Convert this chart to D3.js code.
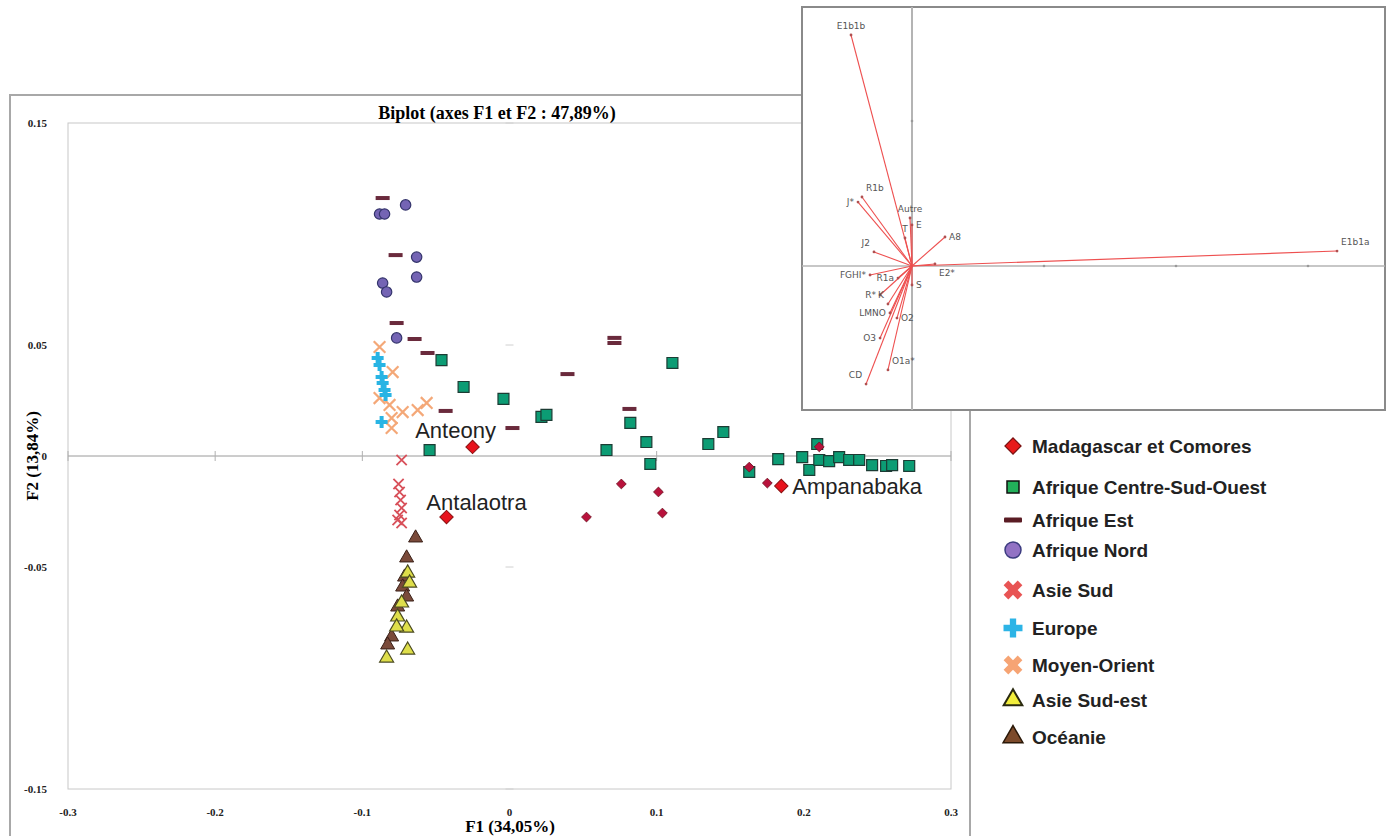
<!DOCTYPE html>
<html>
<head>
<meta charset="utf-8">
<script src="https://cdn.jsdelivr.net/npm/d3@7"></script>
<style>
  body { margin: 0; background: #fff; }
  svg { display: block; }
</style>
</head>
<body>
<svg id="chart"></svg>
<script>
// ---- data (F1, F2 coordinates) ----
const madagascar = [
  [-0.0251, 0.0041, "Anteony"], [-0.0428, -0.0275, "Antalaotra"], [0.1847, -0.0135, "Ampanabaka"],
  [0.0760, -0.0126], [0.0523, -0.0275], [0.1012, -0.0162], [0.1039, -0.0257],
  [0.1629, -0.0050], [0.1752, -0.0122], [0.2105, 0.0041]
];
const afriqueCSO = [
  [-0.0462, 0.0432], [-0.0543, 0.0027], [-0.0312, 0.0311], [-0.0041, 0.0257], [0.0217, 0.0176],
  [0.0251, 0.0185], [0.0659, 0.0027], [0.0821, 0.0149], [0.0930, 0.0063], [0.0957, -0.0036],
  [0.1107, 0.0419], [0.1351, 0.0054], [0.1453, 0.0108], [0.1629, -0.0072], [0.1826, -0.0014],
  [0.1989, -0.0005], [0.2037, -0.0063], [0.2091, 0.0054], [0.2105, -0.0018], [0.2172, -0.0023],
  [0.2240, -0.0005], [0.2308, -0.0018], [0.2376, -0.0018], [0.2464, -0.0041], [0.2559, -0.0045],
  [0.2600, -0.0041], [0.2716, -0.0045]
];
const afriqueEst = [
  [-0.0862, 0.1162], [-0.0774, 0.0905], [-0.0767, 0.0599], [-0.0645, 0.0527], [-0.0557, 0.0464],
  [-0.0434, 0.0203], [0.0020, 0.0126], [0.0394, 0.0369], [0.0713, 0.0532], [0.0713, 0.0509],
  [0.0815, 0.0212]
];
const afriqueNord = [
  [-0.0883, 0.1090], [-0.0849, 0.1090], [-0.0706, 0.1131], [-0.0631, 0.0896], [-0.0631, 0.0806],
  [-0.0862, 0.0779], [-0.0835, 0.0739], [-0.0767, 0.0532]
];
const asieSud = [
  [-0.0733, -0.0018], [-0.0754, -0.0126], [-0.0747, -0.0162], [-0.0740, -0.0198],
  [-0.0733, -0.0234], [-0.0747, -0.0266], [-0.0733, -0.0302], [-0.0760, -0.0288]
];
const europe = [
  [-0.0896, 0.0441], [-0.0883, 0.0410], [-0.0869, 0.0356], [-0.0862, 0.0329],
  [-0.0849, 0.0297], [-0.0842, 0.0275], [-0.0869, 0.0153]
];
const moyenOrient = [
  [-0.0883, 0.0491], [-0.0794, 0.0378], [-0.0883, 0.0261], [-0.0815, 0.0230], [-0.0726, 0.0198],
  [-0.0563, 0.0239], [-0.0624, 0.0207], [-0.0801, 0.0171], [-0.0801, 0.0126]
];
const asieSudEst = [
  [-0.0692, -0.0527], [-0.0679, -0.0572], [-0.0733, -0.0662], [-0.0760, -0.0725],
  [-0.0699, -0.0775], [-0.0767, -0.0770], [-0.0692, -0.0874], [-0.0835, -0.0910]
];
const oceanie = [
  [-0.0638, -0.0369], [-0.0699, -0.0459], [-0.0713, -0.0545], [-0.0726, -0.0590],
  [-0.0699, -0.0635], [-0.0760, -0.0680], [-0.0801, -0.0815], [-0.0828, -0.0851]
];

const xTicks = [-0.3, -0.2, -0.1, 0, 0.1, 0.2, 0.3];
const yTicks = [0.15, 0.05, 0, -0.05, -0.15];

// variables of the biplot inset (loadings)
const varNames = ["E1b1b", "E1b1a", "R1b", "J*", "Autre", "E", "A8", "J2", "T", "E2*",
  "FGHI*", "R1a", "S", "R*", "K", "LMNO", "O2", "O3", "O1a*", "CD"];
const varX = [-0.462, 3.220, -0.379, -0.409, -0.015, 0.0, 0.250, -0.288, -0.053, 0.174,
  -0.318, -0.106, 0.0, -0.242, -0.182, -0.167, -0.114, -0.242, -0.182, -0.348];
const varY = [1.593, 0.103, 0.476, 0.441, 0.331, 0.283, 0.200, 0.097, 0.193, 0.014,
  -0.062, -0.083, -0.131, -0.200, -0.262, -0.324, -0.359, -0.497, -0.717, -0.814];
// side of the end point where each variable name sits
const varSide = ["n", "ne", "ne", "w", "n", "e", "e", "nw", "n", "se",
  "w", "w", "e", "w", "nw", "w", "e", "w", "ne", "nw"];
const insetXTicks = [1, 2, 3];
const insetYTicks = [1];

const legendNames = ["Madagascar et Comores", "Afrique Centre-Sud-Ouest", "Afrique Est", "Afrique Nord",
  "Asie Sud", "Europe", "Moyen-Orient", "Asie Sud-est", "Océanie"];

// ---- layout ----
const svgWidth = 1390, svgHeight = 836;
const plot = { left: 68, right: 951, top: 123, bottom: 789 };

const svg = d3.select("#chart")
  .attr("width", svgWidth)
  .attr("height", svgHeight);

const x = d3.scaleLinear().domain([-0.3, 0.3]).range([plot.left, plot.right]);
const y = d3.scaleLinear().domain([-0.15, 0.15]).range([plot.bottom, plot.top]);

// outer frame of the chart
svg.append("rect")
  .attr("x", 10).attr("y", 95)
  .attr("width", 960).attr("height", 760)
  .attr("fill", "white")
  .attr("stroke", "#a8a8a8")
  .attr("stroke-width", 2);

// plot area border
svg.append("rect")
  .attr("x", plot.left).attr("y", plot.top)
  .attr("width", plot.right - plot.left).attr("height", plot.bottom - plot.top)
  .attr("fill", "none")
  .attr("stroke", "#c8c8c8")
  .attr("stroke-width", 1);

// zero line
svg.append("line")
  .attr("x1", plot.left).attr("x2", plot.right)
  .attr("y1", y(0)).attr("y2", y(0))
  .attr("stroke", "#9a9a9a");

// small tick marks on the zero axes
svg.append("g").selectAll("line")
  .data(xTicks.filter(d => d !== 0))
  .enter().append("line")
  .attr("x1", d => x(d)).attr("x2", d => x(d))
  .attr("y1", y(0) - 5).attr("y2", y(0) + 5)
  .attr("stroke", "#b0b0b0");

svg.append("g").selectAll("line")
  .data(yTicks.filter(d => d !== 0))
  .enter().append("line")
  .attr("x1", x(0) - 4).attr("x2", x(0) + 4)
  .attr("y1", d => y(d)).attr("y2", d => y(d))
  .attr("stroke", "#d0d0d0");

// tick labels
const tickFont = "'Liberation Serif', 'DejaVu Serif', serif";
svg.append("g").selectAll("text")
  .data(xTicks)
  .enter().append("text")
  .attr("x", d => x(d))
  .attr("y", 816)
  .attr("text-anchor", "middle")
  .style("font-family", tickFont)
  .style("font-size", "11px")
  .style("font-weight", "bold")
  .attr("fill", "#222")
  .text(d => d);

svg.append("g").selectAll("text")
  .data(yTicks)
  .enter().append("text")
  .attr("x", 47)
  .attr("y", d => y(d) + 4)
  .attr("text-anchor", "end")
  .style("font-family", tickFont)
  .style("font-size", "11px")
  .style("font-weight", "bold")
  .attr("fill", "#222")
  .text(d => d);

// titles
svg.append("text")
  .attr("x", 497).attr("y", 119)
  .attr("text-anchor", "middle")
  .style("font-family", tickFont)
  .style("font-size", "18px")
  .style("font-weight", "bold")
  .text("Biplot (axes F1 et F2 : 47,89%)");

svg.append("text")
  .attr("x", 510).attr("y", 832)
  .attr("text-anchor", "middle")
  .style("font-family", tickFont)
  .style("font-size", "17px")
  .style("font-weight", "bold")
  .text("F1 (34,05%)");

svg.append("text")
  .attr("transform", `translate(38,${y(0)}) rotate(-90)`)
  .attr("text-anchor", "middle")
  .style("font-family", tickFont)
  .style("font-size", "17px")
  .style("font-weight", "bold")
  .text("F2 (13,84%)");

// ---- observation markers ----
const pts = svg.append("g");

function drawSymbols(data, type, size, fill, stroke, strokeWidth, rotate) {
  pts.append("g").selectAll("path")
    .data(data)
    .enter().append("path")
    .attr("d", d3.symbol().type(type).size(size))
    .attr("transform", d => `translate(${x(d[0])},${y(d[1])}) rotate(${rotate || 0})`)
    .attr("fill", fill)
    .attr("stroke", stroke)
    .attr("stroke-width", strokeWidth);
}

drawSymbols(asieSud, d3.symbolX, 70, "none", "#d8505a", 1.8);
drawSymbols(moyenOrient, d3.symbolX, 90, "none", "#f4a878", 2.2);
drawSymbols(europe, d3.symbolCross, 80, "#28b4e4", "none", 0);
drawSymbols(afriqueNord, d3.symbolCircle, 85, "#7464b4", "#34346c", 1.2);

pts.append("g").selectAll("rect")
  .data(afriqueEst)
  .enter().append("rect")
  .attr("x", d => x(d[0]) - 7)
  .attr("y", d => y(d[1]) - 2)
  .attr("width", 14).attr("height", 4)
  .attr("fill", "#6a2a3c");

drawSymbols(oceanie, d3.symbolTriangle, 85, "#7a4a3a", "#3a2018", 1);
drawSymbols(asieSudEst, d3.symbolTriangle, 85, "#dede4a", "#4a4a20", 1.2);
drawSymbols(afriqueCSO, d3.symbolSquare, 120, "#0c9c74", "#1c3c34", 1.2);

// small Madagascar diamonds, then the three labelled populations
drawSymbols(madagascar.filter(d => !d[2]), d3.symbolSquare, 48, "#b8123c", "#701020", 0.8, 45);
drawSymbols(madagascar.filter(d => d[2]), d3.symbolSquare, 90, "#e8121c", "#8a1010", 1, 45);

// population labels (offsets relative to the marker)
const annotations = [
  { name: "Anteony", anchor: "middle", dx: -17, dy: -9 },
  { name: "Antalaotra", anchor: "middle", dx: 30, dy: -7 },
  { name: "Ampanabaka", anchor: "start", dx: 11, dy: 8 }
];
annotations.forEach(a => {
  const p = madagascar.find(d => d[2] === a.name);
  svg.append("text")
    .attr("x", x(p[0]) + a.dx)
    .attr("y", y(p[1]) + a.dy)
    .attr("text-anchor", a.anchor)
    .style("font-family", "'Liberation Sans', Arial, sans-serif")
    .style("font-size", "22px")
    .attr("fill", "#222")
    .text(a.name);
});

// ---- inset: variable loadings ----
const inset = { left: 802, right: 1385, top: 7, bottom: 410 };
const ix = d3.scaleLinear().domain([0, 1]).range([912, 1044]);
const iy = d3.scaleLinear().domain([0, 1]).range([266, 121]);

const ig = svg.append("g");
ig.append("rect")
  .attr("x", inset.left).attr("y", inset.top)
  .attr("width", inset.right - inset.left).attr("height", inset.bottom - inset.top)
  .attr("fill", "white")
  .attr("stroke", "#8a8a8a")
  .attr("stroke-width", 2);

ig.append("line")
  .attr("x1", ix(0)).attr("x2", ix(0))
  .attr("y1", inset.top).attr("y2", inset.bottom)
  .attr("stroke", "#b4b4b4").attr("stroke-width", 2);
ig.append("line")
  .attr("x1", inset.left).attr("x2", inset.right)
  .attr("y1", iy(0)).attr("y2", iy(0))
  .attr("stroke", "#b4b4b4").attr("stroke-width", 1.5);

ig.append("g").selectAll("circle")
  .data(insetXTicks)
  .enter().append("circle")
  .attr("cx", d => ix(d)).attr("cy", iy(0)).attr("r", 1.3)
  .attr("fill", "#999");
ig.append("g").selectAll("circle")
  .data(insetYTicks)
  .enter().append("circle")
  .attr("cx", ix(0)).attr("cy", d => iy(d)).attr("r", 1.3)
  .attr("fill", "#999");

const vars = varNames.map((n, i) => ({ name: n, x: varX[i], y: varY[i], side: varSide[i] }));

ig.append("g").selectAll("line")
  .data(vars)
  .enter().append("line")
  .attr("x1", ix(0)).attr("y1", iy(0))
  .attr("x2", d => ix(d.x)).attr("y2", d => iy(d.y))
  .attr("stroke", "#ee5050")
  .attr("stroke-width", 1.1);

ig.append("g").selectAll("circle")
  .data(vars)
  .enter().append("circle")
  .attr("cx", d => ix(d.x)).attr("cy", d => iy(d.y)).attr("r", 1.4)
  .attr("fill", "#b05050");

// label each arrow on its given side of the end point
ig.append("g").selectAll("text")
  .data(vars)
  .enter().append("text")
  .each(function(d) {
    let dx = 0, dy = 3, anchor = "middle";
    if (d.side.includes("n")) dy = -6;
    if (d.side.includes("s")) dy = 12;
    if (d.side.includes("e")) { dx = 4; anchor = "start"; }
    if (d.side.includes("w")) { dx = -4; anchor = "end"; }
    d3.select(this)
      .attr("x", ix(d.x) + dx)
      .attr("y", iy(d.y) + dy)
      .attr("text-anchor", anchor);
  })
  .style("font-family", "'DejaVu Sans', sans-serif")
  .style("font-size", "9px")
  .attr("fill", "#555")
  .text(d => d.name);

// ---- legend ----
const legendY = [446, 487, 520, 550, 590, 628, 665, 700, 737];
const lg = svg.append("g");
const mx = 1013;

lg.append("path").attr("d", d3.symbol().type(d3.symbolSquare).size(130)())
  .attr("transform", `translate(${mx},${legendY[0]}) rotate(45)`)
  .attr("fill", "#e81a1a").attr("stroke", "#7a1010").attr("stroke-width", 1.2);
lg.append("rect").attr("x", mx - 6).attr("y", legendY[1] - 6).attr("width", 12).attr("height", 12)
  .attr("fill", "#22b05a").attr("stroke", "#111").attr("stroke-width", 1.5);
lg.append("rect").attr("x", mx - 9).attr("y", legendY[2] - 2.5).attr("width", 18).attr("height", 5)
  .attr("rx", 1).attr("fill", "#5a1c24");
lg.append("circle").attr("cx", mx).attr("cy", legendY[3]).attr("r", 8)
  .attr("fill", "#9272c4").attr("stroke", "#3c3c80").attr("stroke-width", 1.5);
lg.append("path").attr("d", d3.symbol().type(d3.symbolCross).size(220)())
  .attr("transform", `translate(${mx},${legendY[4]}) rotate(45)`)
  .attr("fill", "#e85454");
lg.append("path").attr("d", d3.symbol().type(d3.symbolCross).size(200)())
  .attr("transform", `translate(${mx},${legendY[5]})`)
  .attr("fill", "#2cb4e6");
lg.append("path").attr("d", d3.symbol().type(d3.symbolCross).size(220)())
  .attr("transform", `translate(${mx},${legendY[6]}) rotate(45)`)
  .attr("fill", "#f6a474");
lg.append("path").attr("d", d3.symbol().type(d3.symbolTriangle).size(150)())
  .attr("transform", `translate(${mx},${legendY[7]})`)
  .attr("fill", "#f2ee3c").attr("stroke", "#2a2a10").attr("stroke-width", 2);
lg.append("path").attr("d", d3.symbol().type(d3.symbolTriangle).size(170)())
  .attr("transform", `translate(${mx},${legendY[8]})`)
  .attr("fill", "#7c4a2a").attr("stroke", "#2a1808").attr("stroke-width", 1.5);

lg.selectAll("text")
  .data(legendNames)
  .enter().append("text")
  .attr("x", 1032)
  .attr("y", (d, i) => legendY[i] + 7)
  .style("font-family", "'Liberation Sans', Arial, sans-serif")
  .style("font-size", "19px")
  .style("font-weight", "bold")
  .attr("fill", "#222")
  .text(d => d);
</script>
</body>
</html>
